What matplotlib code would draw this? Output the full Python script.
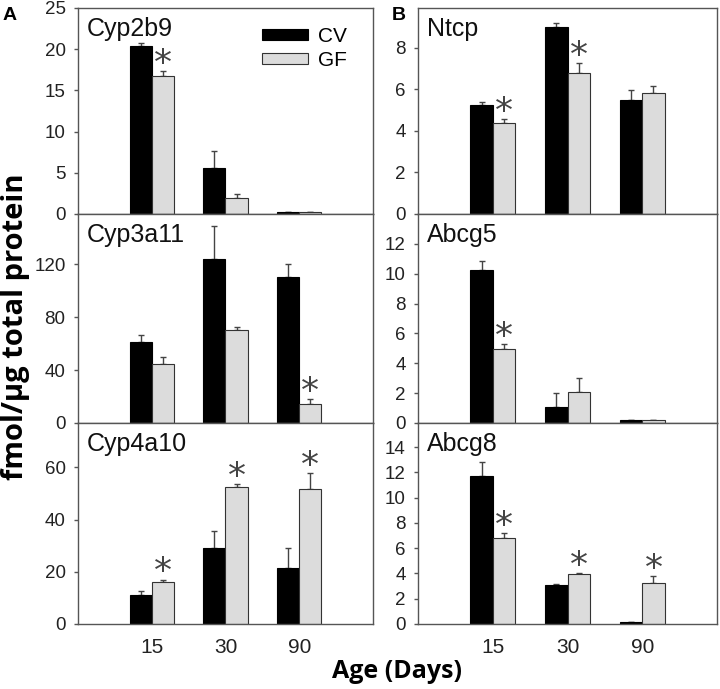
import numpy as np
import matplotlib.pyplot as plt

ages = ["15", "30", "90"]

# left column (A)
cyp2b9_cv = [20.4, 5.6, 0.3]
cyp2b9_cv_err = [0.3, 2.1, 0.0]
cyp2b9_gf = [16.8, 1.9, 0.3]
cyp2b9_gf_err = [0.5, 0.5, 0.0]
cyp2b9_sig_gf = [True, False, False]

cyp3a11_cv = [61, 124, 110]
cyp3a11_cv_err = [5.5, 25, 10]
cyp3a11_gf = [44.5, 70.5, 14.5]
cyp3a11_gf_err = [5.5, 2, 3.5]
cyp3a11_sig_gf = [False, False, True]

cyp4a10_cv = [11.2, 29, 21.5]
cyp4a10_cv_err = [1.3, 6.8, 7.7]
cyp4a10_gf = [16.1, 52.5, 51.7]
cyp4a10_gf_err = [0.9, 1.2, 6.2]
cyp4a10_sig_gf = [True, True, True]

# right column (B)
ntcp_cv = [5.23, 8.98, 5.48]
ntcp_cv_err = [0.15, 0.22, 0.48]
ntcp_gf = [4.36, 6.78, 5.83]
ntcp_gf_err = [0.19, 0.46, 0.32]
ntcp_sig_gf = [True, True, False]

abcg5_cv = [10.25, 1.1, 0.2]
abcg5_cv_err = [0.6, 0.9, 0.0]
abcg5_gf = [4.94, 2.06, 0.2]
abcg5_gf_err = [0.34, 0.97, 0.0]
abcg5_sig_gf = [True, False, False]

abcg8_cv = [11.67, 3.05, 0.15]
abcg8_cv_err = [1.16, 0.08, 0.0]
abcg8_gf = [6.81, 3.95, 3.23]
abcg8_gf_err = [0.4, 0.05, 0.53]
abcg8_sig_gf = [True, True, True]

panels = [
    ("Cyp2b9", cyp2b9_cv, cyp2b9_cv_err, cyp2b9_gf, cyp2b9_gf_err, cyp2b9_sig_gf, 25, [0, 5, 10, 15, 20, 25]),
    ("Cyp3a11", cyp3a11_cv, cyp3a11_cv_err, cyp3a11_gf, cyp3a11_gf_err, cyp3a11_sig_gf, 158, [0, 40, 80, 120]),
    ("Cyp4a10", cyp4a10_cv, cyp4a10_cv_err, cyp4a10_gf, cyp4a10_gf_err, cyp4a10_sig_gf, 77, [0, 20, 40, 60]),
    ("Ntcp", ntcp_cv, ntcp_cv_err, ntcp_gf, ntcp_gf_err, ntcp_sig_gf, 9.9, [0, 2, 4, 6, 8]),
    ("Abcg5", abcg5_cv, abcg5_cv_err, abcg5_gf, abcg5_gf_err, abcg5_sig_gf, 14, [0, 2, 4, 6, 8, 10, 12]),
    ("Abcg8", abcg8_cv, abcg8_cv_err, abcg8_gf, abcg8_gf_err, abcg8_sig_gf, 15.9, [0, 2, 4, 6, 8, 10, 12, 14]),
]

plt.rcParams['font.family'] = ['Liberation Sans', 'DejaVu Sans']

W, H = 720, 689
fig = plt.figure(figsize=(W / 100, H / 100), dpi=100)

cols = [(78, 373), (418, 717)]
rows = [(8, 214), (214, 423), (423, 624)]

x = np.arange(1, 4)
bw = 0.3
spine_col = "#555555"

for i, (name, cv, cv_err, gf, gf_err, sig, ymax, ticks) in enumerate(panels):
    c = i // 3
    r = i % 3
    x0, x1 = cols[c]
    y0, y1 = rows[r]
    ax = fig.add_axes([x0 / W, 1 - y1 / H, (x1 - x0) / W, (y1 - y0) / H])
    ax.bar(x - bw / 2, cv, bw, color="black", edgecolor="black", linewidth=0.8, label="CV", zorder=2)
    ax.bar(x + bw / 2, gf, bw, color="#dcdcdc", edgecolor="#333333", linewidth=0.8, label="GF", zorder=2)
    ax.errorbar(x - bw / 2, cv, yerr=[np.zeros(3), cv_err], fmt="none", ecolor="#444444",
                elinewidth=1, capsize=2.5, capthick=1, zorder=1)
    ax.errorbar(x + bw / 2, gf, yerr=[np.zeros(3), gf_err], fmt="none", ecolor="#444444",
                elinewidth=1, capsize=2.5, capthick=1, zorder=1)
    for k in range(3):
        if sig[k]:
            ax.annotate("*", (x[k] + bw / 2, gf[k] + gf_err[k]), xytext=(0, -7),
                        textcoords="offset points", ha="center", va="bottom",
                        fontsize=26, color="#444444", family="DejaVu Sans")
    ax.set_xlim(0, 4)
    ax.set_ylim(0, ymax)
    ax.set_yticks(ticks)
    ax.tick_params(axis="y", length=3, width=1, color=spine_col, labelsize=13.5, pad=6,
                   labelcolor="#222222")
    ax.tick_params(axis="x", length=0, labelsize=15, pad=10, labelcolor="#222222")
    ax.set_xticks(x)
    if r == 2:
        ax.set_xticklabels(ages)
    else:
        ax.set_xticklabels([])
    for s in ax.spines.values():
        s.set_color(spine_col)
        s.set_linewidth(1)
    ax.text(0.03, 0.955, name, transform=ax.transAxes, ha="left", va="top",
            fontsize=18, color="#111111")
    if i == 0:
        ax.legend(loc="upper left", bbox_to_anchor=(0.56, 1.0), frameon=False,
                  fontsize=15, handlelength=2.2, handleheight=0.4, labelspacing=0.25,
                  handletextpad=0.5)

fig.text(3 / W, 1 - 16 / H, "A", fontsize=14, fontweight="bold", ha="left", va="center")
fig.text(392 / W, 1 - 16 / H, "B", fontsize=14, fontweight="bold", ha="left", va="center")
fig.text(16 / W, 1 - 327 / H, "fmol/\u00b5g total protein", rotation=90, fontsize=21,
         fontweight="bold", ha="center", va="center", family="Open Sans")
fig.text(397 / W, 1 - 671 / H, "Age (Days)", fontsize=18, fontweight="bold",
         ha="center", va="center", family="Open Sans")

fig.savefig("out.png", dpi=100)
